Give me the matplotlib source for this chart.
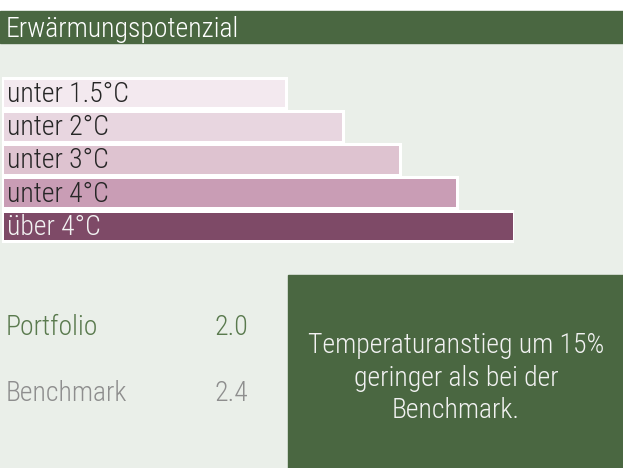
import matplotlib
matplotlib.use("Agg")
import matplotlib.pyplot as plt
from matplotlib.patches import Rectangle

# daten
stufen = ["unter 1.5°C", "unter 2°C", "unter 3°C", "unter 4°C", "über 4°C"]
balken = [5, 6, 7, 8, 9]
farben = ["#F3E9EF", "#E8D6E0", "#DEC3D0", "#C99DB5", "#7E4A67"]
text_farben = ["#262626", "#262626", "#262626", "#262626", "#F2F2F2"]

kennzahlen = ["Portfolio", "Benchmark"]
werte = [2.0, 2.4]
kennzahl_farben = ["#5A7A4E", "#8E8E8E"]

titel = "Erwärmungspotenzial"
hinweis = "Temperaturanstieg um 15%\ngeringer als bei der\nBenchmark."

GRUEN = "#4A6741"
HINTERGRUND = "#EAEFE9"
W, H = 623, 468
FS = 20

plt.rcParams["font.family"] = ["Roboto Condensed", "DejaVu Sans"]
plt.rcParams["font.weight"] = 300

fig = plt.figure(figsize=(W / 100, H / 100), dpi=100)


# pixel (von oben links) -> figure-koordinaten
def px(x, y):
    return x / W, 1 - y / H


def rechteck(x0, y0, x1, y1, farbe):
    fig.patches.append(Rectangle((x0 / W, 1 - y1 / H), (x1 - x0) / W, (y1 - y0) / H,
                                 transform=fig.transFigure, color=farbe, zorder=-1))


rechteck(0, 43, W, H, HINTERGRUND)
rechteck(0, 11, W, 43, GRUEN)
fig.text(*px(6, 37), titel, color="white", fontsize=FS, fontweight=300, va="baseline")

# balken
ax = fig.add_axes([1.5 / W, 1 - 242.6 / H, 512 / W, 166.2 / H])
ax.barh(range(len(stufen)), balken, height=0.93, color=farben, edgecolor="white",
        linewidth=2.16, left=0)
ax.set_xlim(0, max(balken))
ax.set_ylim(len(stufen) - 0.5, -0.5)
ax.axis("off")
for i, s in enumerate(stufen):
    ax.annotate(s, xy=(0, i), xytext=(4, -1), textcoords="offset points",
                va="center", ha="left", fontsize=FS, fontweight=300, color=text_farben[i])

# kennzahlen
for i, (k, v) in enumerate(zip(kennzahlen, werte)):
    y = 335 + i * 66
    fig.text(*px(6, y), k, color=kennzahl_farben[i], fontsize=FS, fontweight=300, va="baseline")
    fig.text(*px(248, y), f"{v:.1f}", color=kennzahl_farben[i], fontsize=FS, fontweight=300,
             va="baseline", ha="right")

# hinweisbox
rechteck(288, 275, W, H, GRUEN)
fig.text(*px(456, 378), hinweis, color="#F2F2F2", fontsize=FS, fontweight=300,
         ha="center", va="center", linespacing=1.26)

fig.savefig("out.png", dpi=100)
